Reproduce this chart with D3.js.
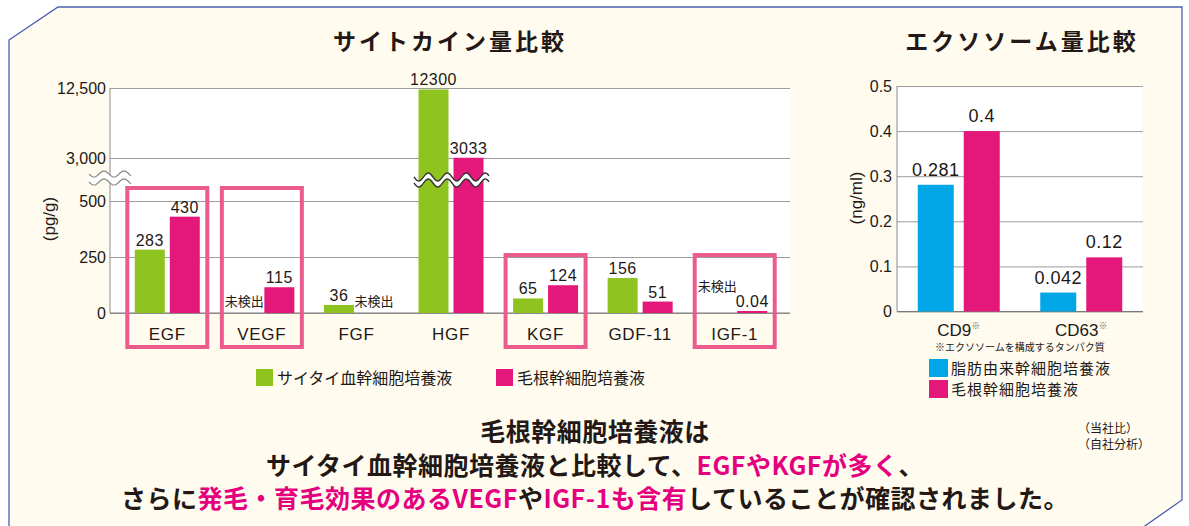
<!DOCTYPE html>
<html lang="ja">
<head>
<meta charset="utf-8">
<script src="https://cdn.jsdelivr.net/npm/d3@7"></script>
<style>
  body { margin: 0; background: #fff; }
  svg text { font-family: "Liberation Sans", Arial, "Noto Sans CJK JP", sans-serif; fill: #231815; }
  svg text.jp { font-family: "Noto Sans CJK JP", sans-serif; }
</style>
</head>
<body>
<svg id="chart" width="1189" height="526"></svg>
<script>
// cytokine chart data
const cytoCats = ["EGF", "VEGF", "FGF", "HGF", "KGF", "GDF-11", "IGF-1"];
const cordBlood = [283, null, 36, 12300, 65, 156, null];     // null = 未検出
const hairRoot = [430, 115, null, 3033, 124, 51, 0.04];
const cytoTicks = [0, 250, 500, 3000, 12500];
const highlighted = ["EGF", "VEGF", "KGF", "IGF-1"];

// exosome chart data
const exoCats = ["CD9", "CD63"];
const adipose = [0.281, 0.042];
const hairRootExo = [0.4, 0.12];
const exoTicks = [0, 0.1, 0.2, 0.3, 0.4, 0.5];

const green = "#8fc31f", magenta = "#e4187a", blue = "#00a6e6", boxPink = "#ec5b8e";

const svg = d3.select("#chart");

// panel frame
svg.append("path")
  .attr("d", d3.line()([[9, 40], [58, 7], [1182, 7], [1182, 500], [1142, 528], [9, 528]]) + "Z")
  .attr("fill", "#fffcef")
  .attr("stroke", "#4b5db3")
  .attr("stroke-width", 1.3);

function wave(x0, x1, yc, amp, period) {
  const pts = [];
  for (let x = x0; x <= x1 + 0.01; x += 1) {
    pts.push([x, yc + amp * Math.sin(2 * Math.PI * (x - x0) / period)]);
  }
  return pts;
}

function breakMark(x0, x1, yc, amp, period, thick, color, sw) {
  const top = wave(x0, x1, yc - thick / 2, amp, period);
  const bot = wave(x0, x1, yc + thick / 2, amp, period);
  svg.append("path")
    .attr("d", d3.line()(top.concat(bot.slice().reverse())) + "Z")
    .attr("fill", "#fff");
  [top, bot].forEach(p => {
    svg.append("path")
      .attr("d", d3.line()(p))
      .attr("fill", "none")
      .attr("stroke", color)
      .attr("stroke-width", sw);
  });
}

// ---------- Left: cytokines ----------
const L = { left: 110, right: 790, top: 88, bottom: 313 };
const yL = d3.scaleLinear().domain([0, 500, 3000, 12500]).range([313, 201, 158, 88]);
const xL = d3.scaleBand().domain(cytoCats).range([120, 782]);
const barW = 30, barGap = 5;

svg.append("rect")
  .attr("x", L.left).attr("y", L.top)
  .attr("width", L.right - L.left).attr("height", L.bottom - L.top)
  .attr("fill", "#fff");

const axL = svg.append("g")
  .attr("transform", `translate(${L.left},0)`)
  .call(d3.axisLeft(yL).tickValues(cytoTicks).tickSize(-(L.right - L.left)).tickPadding(4).tickFormat(d3.format(",")));
axL.select(".domain").remove();
axL.selectAll("line").attr("stroke", "#9c9c9c");
axL.selectAll("text").attr("font-size", 16).attr("fill", "#231815");

svg.append("line")
  .attr("x1", L.left).attr("x2", L.left).attr("y1", L.top).attr("y2", L.bottom)
  .attr("stroke", "#8c8c8c");
svg.append("line")
  .attr("x1", L.left).attr("x2", L.right).attr("y1", yL(0)).attr("y2", yL(0))
  .attr("stroke", "#7a7a7a");

// highlight boxes
const boxTop = { "EGF": 188, "VEGF": 188, "KGF": 255, "IGF-1": 255 };
highlighted.forEach(c => {
  svg.append("rect")
    .attr("x", xL(c) + xL.bandwidth() / 2 - 40)
    .attr("y", boxTop[c])
    .attr("width", 80)
    .attr("height", 347 - boxTop[c])
    .attr("fill", "none")
    .attr("stroke", boxPink)
    .attr("stroke-width", 4);
});

const cytoBars = [];
cytoCats.forEach((c, i) => {
  cytoBars.push({ cat: c, value: cordBlood[i], color: green, off: -barGap / 2 - barW });
  cytoBars.push({ cat: c, value: hairRoot[i], color: magenta, off: barGap / 2 });
});

const cx = d => xL(d.cat) + xL.bandwidth() / 2 + d.off;

svg.selectAll(".cbar")
  .data(cytoBars.filter(d => d.value !== null))
  .enter().append("rect")
  .attr("class", "cbar")
  .attr("x", cx)
  .attr("width", barW)
  .attr("y", d => Math.min(yL(d.value), yL(0) - 2))
  .attr("height", d => Math.max(yL(0) - yL(d.value), 2))
  .attr("fill", d => d.color);

svg.selectAll(".clabel")
  .data(cytoBars)
  .enter().append("text")
  .attr("class", d => d.value === null ? "clabel jp" : "clabel")
  .attr("x", d => cx(d) + barW / 2)
  .attr("y", d => d.value === null ? (d.cat === "IGF-1" ? yL(0) - 22 : yL(0) - 7) : Math.min(yL(d.value), yL(0) - 2) - 4)
  .attr("text-anchor", "middle")
  .attr("font-size", d => d.value === null ? 13 : 16)
  .attr("letter-spacing", d => d.value === null ? 0 : 0.5)
  .text(d => d.value === null ? "未検出" : String(d.value));

// axis break marks
breakMark(89, 131, 178, 3, 20, 8, "#8a8a8a", 1.2);
breakMark(414, 489, 180, 4, 19, 6, "#333", 1.4);

svg.selectAll(".xlabel")
  .data(cytoCats)
  .enter().append("text")
  .attr("x", d => xL(d) + xL.bandwidth() / 2)
  .attr("y", 340)
  .attr("text-anchor", "middle")
  .attr("font-size", 17)
  .attr("letter-spacing", 0.7)
  .text(d => d);

svg.append("text")
  .attr("transform", "translate(55,219) rotate(-90)")
  .attr("text-anchor", "middle")
  .attr("font-size", 17)
  .text("(pg/g)");

svg.append("text")
  .attr("class", "jp")
  .attr("x", 450).attr("y", 50)
  .attr("text-anchor", "middle")
  .attr("font-size", 23).attr("font-weight", "bold")
  .attr("letter-spacing", 3)
  .text("サイトカイン量比較");

// legend (left)
[[256, green, "サイタイ血幹細胞培養液"], [496, magenta, "毛根幹細胞培養液"]].forEach(([x, col, label]) => {
  svg.append("rect").attr("x", x).attr("y", 369).attr("width", 17).attr("height", 17).attr("fill", col);
  svg.append("text").attr("class", "jp").attr("x", x + 21).attr("y", 384)
    .attr("font-size", 16).text(label);
});

// ---------- Right: exosomes ----------
const R = { left: 897, right: 1143, top: 86, bottom: 311.5 };
const yR = d3.scaleLinear().domain([0, 0.5]).range([R.bottom, R.top]);
const xR = d3.scaleBand().domain(exoCats).range([897.5, 1142.5]);
const exoW = 36, exoGap = 10;

svg.append("rect")
  .attr("x", R.left).attr("y", R.top)
  .attr("width", R.right - R.left).attr("height", R.bottom - R.top)
  .attr("fill", "#fff");

const axR = svg.append("g")
  .attr("transform", `translate(${R.left},0)`)
  .call(d3.axisLeft(yR).tickValues(exoTicks).tickSize(-(R.right - R.left)).tickPadding(5).tickFormat(d => String(d)));
axR.select(".domain").remove();
axR.selectAll("line").attr("stroke", "#9c9c9c");
axR.selectAll("text").attr("font-size", 16).attr("fill", "#231815");

svg.append("line")
  .attr("x1", R.left).attr("x2", R.left).attr("y1", R.top).attr("y2", R.bottom)
  .attr("stroke", "#8c8c8c");
svg.append("line")
  .attr("x1", R.left).attr("x2", R.right).attr("y1", yR(0)).attr("y2", yR(0))
  .attr("stroke", "#7a7a7a");

const exoBars = [];
exoCats.forEach((c, i) => {
  exoBars.push({ cat: c, value: adipose[i], color: blue, off: -exoGap / 2 - exoW });
  exoBars.push({ cat: c, value: hairRootExo[i], color: magenta, off: exoGap / 2 });
});
const ex = d => xR(d.cat) + xR.bandwidth() / 2 + d.off;

svg.selectAll(".ebar")
  .data(exoBars)
  .enter().append("rect")
  .attr("class", "ebar")
  .attr("x", ex)
  .attr("width", exoW)
  .attr("y", d => yR(d.value))
  .attr("height", d => yR(0) - yR(d.value))
  .attr("fill", d => d.color);

svg.selectAll(".elabel")
  .data(exoBars)
  .enter().append("text")
  .attr("x", d => ex(d) + exoW / 2)
  .attr("y", d => yR(d.value) - 9)
  .attr("text-anchor", "middle")
  .attr("font-size", 18)
  .attr("letter-spacing", 0.5)
  .text(d => String(d.value));

exoCats.forEach(c => {
  const t = svg.append("text")
    .attr("x", xR(c) + xR.bandwidth() / 2)
    .attr("y", 336)
    .attr("text-anchor", "middle")
    .attr("font-size", 17);
  t.append("tspan").text(c);
  t.append("tspan").attr("font-size", 9).attr("dy", -7).attr("fill", "#666").text("※");
});

svg.append("text")
  .attr("class", "jp")
  .attr("x", 935).attr("y", 351)
  .attr("font-size", 10)
  .text("※エクソソームを構成するタンパク質");

svg.append("text")
  .attr("transform", "translate(862,198) rotate(-90)")
  .attr("text-anchor", "middle")
  .attr("font-size", 17)
  .text("(ng/ml)");

svg.append("text")
  .attr("class", "jp")
  .attr("x", 1022).attr("y", 50)
  .attr("text-anchor", "middle")
  .attr("font-size", 23).attr("font-weight", "bold")
  .attr("letter-spacing", 3)
  .text("エクソソーム量比較");

[[359, 374, blue, "脂肪由来幹細胞培養液"], [380, 395, magenta, "毛根幹細胞培養液"]].forEach(([y, ty, col, label]) => {
  svg.append("rect").attr("x", 929).attr("y", y).attr("width", 19).attr("height", 18).attr("fill", col);
  svg.append("text").attr("class", "jp").attr("x", 951).attr("y", ty)
    .attr("font-size", 15).attr("letter-spacing", 1).text(label);
});

// notes
svg.append("text").attr("class", "jp").attr("x", 1078).attr("y", 433).attr("font-size", 12).text("（当社比）");
svg.append("text").attr("class", "jp").attr("x", 1078).attr("y", 449).attr("font-size", 12).text("（自社分析）");

// conclusion text
const lines = [
  [["毛根幹細胞培養液は", 0]],
  [["サイタイ血幹細胞培養液と比較して、", 0], ["EGFやKGFが多く", 1], ["、", 0]],
  [["さらに", 0], ["発毛・育毛効果のあるVEGF", 1], ["や", 0], ["IGF-1も含有", 1], ["していることが確認されました。", 0]]
];
lines.forEach((parts, i) => {
  const t = svg.append("text")
    .attr("class", "jp")
    .attr("x", 595)
    .attr("y", 441 + i * 33.5)
    .attr("text-anchor", "middle")
    .attr("font-size", 25)
    .attr("font-weight", "bold")
    .attr("letter-spacing", 0.5);
  parts.forEach(([s, hl]) => {
    t.append("tspan").attr("fill", hl ? "#e4007f" : "#231815").text(s);
  });
});
</script>
</body>
</html>
